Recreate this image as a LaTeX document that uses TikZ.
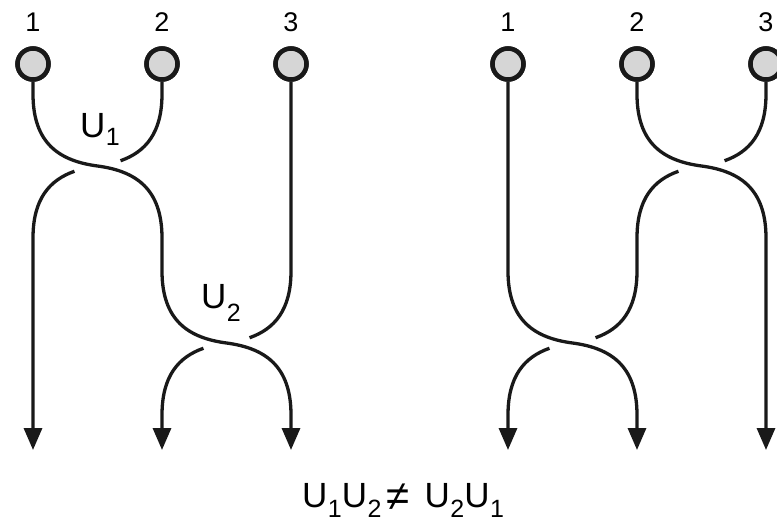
\documentclass[tikz,border=0pt]{standalone}
\usepackage{fontspec}
\setmainfont{Liberation Sans}
\usetikzlibrary{arrows.meta}
\newcommand\Usub[2][11pt]{U\kern0.5pt\raisebox{-#1}{\fontsize{25pt}{25pt}\selectfont #2}}
\newcommand\portnum[1]{\fontsize{27pt}{27pt}\selectfont #1}
\begin{document}
\begin{tikzpicture}[x=1pt,y=-1pt,
  strand/.style={line width=3.3pt,draw=black!90},
  tostrand/.style={strand,-{Triangle[width=18pt,length=22pt]}},
  port/.style={circle,draw=black!90,line width=4.5pt,fill=black!16,minimum size=31pt,inner sep=0pt},
  numlabel/.style={inner sep=0pt},
  ulabel/.style={font=\fontsize{35pt}{35pt}\selectfont,inner sep=0pt,anchor=base west}]
\useasboundingbox[fill=white] (0,0) rectangle (777,523);

% ports
\node[port] (L1) at (33,64) {};
\node[port] (L2) at (162,64) {};
\node[port] (L3) at (291,64) {};
\node[port] (R1) at (508,64) {};
\node[port] (R2) at (637,64) {};
\node[port] (R3) at (766,64) {};

% numbers
\node[numlabel] (nL1) at (33,22) {\portnum{1}};
\node[numlabel] (nL2) at (162,22) {\portnum{2}};
\node[numlabel] (nL3) at (291,22) {\portnum{3}};
\node[numlabel] (nR1) at (508,22) {\portnum{1}};
\node[numlabel] (nR2) at (637,22) {\portnum{2}};
\node[numlabel] (nR3) at (766,22) {\portnum{3}};

% outputs
\coordinate (Lo1) at (33,450);
\coordinate (Lo2) at (162,450);
\coordinate (Lo3) at (291,450);
\coordinate (Ro1) at (508,450);
\coordinate (Ro2) at (637,450);
\coordinate (Ro3) at (766,450);

% break ends
\coordinate (La) at (120.55,160.73);
\coordinate (Lb) at (74.45,171.27);
\coordinate (Lc) at (249.55,337.73);
\coordinate (Ld) at (203.45,348.27);
\coordinate (Ra) at (724.55,160.73);
\coordinate (Rb) at (678.45,171.27);
\coordinate (Rc) at (595.55,337.73);
\coordinate (Rd) at (549.45,348.27);

% left braid
\draw[tostrand] (L1.south) -- (33,94) .. controls (33,144) and (60,161) .. (97.5,166)
  .. controls (135,171) and (162,188) .. (162,238) -- (162,271)
  .. controls (162,321) and (189,338) .. (226.5,343)
  .. controls (264,348) and (291,365) .. (291,415) -- (Lo3);
\draw[strand] (L2.south) -- (162,94) .. controls (162,133) and (145.57,151.92) .. (La);
\draw[tostrand] (Lb) .. controls (49.43,180.08) and (33,199) .. (33,238) -- (Lo1);
\draw[strand] (L3.south) -- (291,271) .. controls (291,310) and (274.57,328.92) .. (Lc);
\draw[tostrand] (Ld) .. controls (178.43,357.08) and (162,376) .. (162,415) -- (Lo2);

% right braid
\draw[tostrand] (R1.south) -- (508,271) .. controls (508,321) and (535,338) .. (572.5,343)
  .. controls (610,348) and (637,365) .. (637,415) -- (Ro2);
\draw[tostrand] (R2.south) -- (637,94) .. controls (637,144) and (664,161) .. (701.5,166)
  .. controls (739,171) and (766,188) .. (766,238) -- (Ro3);
\draw[strand] (R3.south) -- (766,94) .. controls (766,133) and (749.57,151.92) .. (Ra);
\draw[strand] (Rb) .. controls (653.43,180.08) and (637,199) .. (637,238) -- (637,271)
  .. controls (637,310) and (620.57,328.92) .. (Rc);
\draw[tostrand] (Rd) .. controls (524.43,357.08) and (508,376) .. (508,415) -- (Ro1);

% redraw ports on top
\node[port] at (L1) {};
\node[port] at (L2) {};
\node[port] at (L3) {};
\node[port] at (R1) {};
\node[port] at (R2) {};
\node[port] at (R3) {};

% labels
\node[ulabel] (u1) at (80,137) {\Usub[8pt]{1}};
\node[ulabel] (u2) at (201,308) {\Usub[13pt]{2}};
\node[ulabel] (eq) at (302,507) {\Usub[10pt]{1}\Usub[10pt]{2}\kern5pt\raisebox{-3pt}{\fontsize{42pt}{42pt}\selectfont ≠}\kern15pt\Usub[10pt]{2}\Usub[10pt]{1}};
\end{tikzpicture}
\end{document}
